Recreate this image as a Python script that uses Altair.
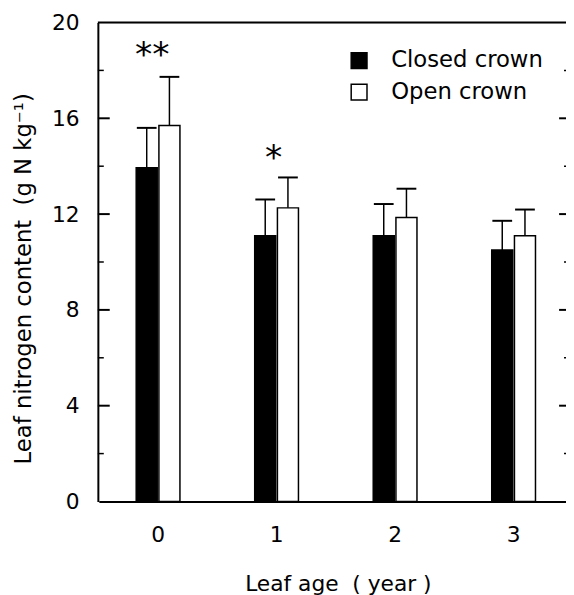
import altair as alt
import pandas as pd

# ---- data ----
ages = ["0", "1", "2", "3"]
crowns = ["Closed crown", "Open crown"]
closed_mean = [13.94, 11.10, 11.10, 10.50]
open_mean = [15.70, 12.26, 11.86, 11.10]
closed_sd = [1.66, 1.51, 1.32, 1.22]
open_sd = [2.03, 1.27, 1.20, 1.09]
sig_labels = ["**", "*"]
sig_ages = ["0", "1"]
sig_y = [18.2, 13.87]
major_ticks = [4, 8, 12, 16]
minor_ticks = [2, 6, 10, 14, 18]
y_labels = [0, 4, 8, 12, 16, 20]

rows = []
for i, a in enumerate(ages):
    rows.append({"age": a, "crown": crowns[0], "mean": closed_mean[i],
                 "upper": closed_mean[i] + closed_sd[i]})
    rows.append({"age": a, "crown": crowns[1], "mean": open_mean[i],
                 "upper": open_mean[i] + open_sd[i]})
df = pd.DataFrame(rows)
sig = pd.DataFrame({"age": sig_ages, "label": sig_labels, "y": sig_y})
majors = pd.DataFrame({"mean": major_ticks})
minors = pd.DataFrame({"mean": minor_ticks})
top = pd.DataFrame({"mean": [20]})

W, H = 474, 485
FONT = "DejaVu Sans"
NB = "\u00a0"

yscale = alt.Scale(domain=[0, 20], nice=False, zero=True)
xscale = alt.Scale(domain=ages, range=[1, 481], paddingInner=0, paddingOuter=0)
oscale = alt.Scale(domain=crowns, range=[37.8, 82.1], paddingInner=0.074, paddingOuter=0)

y_axis = alt.Axis(title=f"Leaf nitrogen content{NB}{NB}(g N kg⁻¹)", values=y_labels,
                  ticks=False, tickSize=0, labelPadding=19, labelFontSize=22,
                  labelFont=FONT, labelColor="black", domainColor="black",
                  domainWidth=2, grid=False, titleFontSize=23, titleFont=FONT,
                  titleFontWeight="normal", titleColor="black",
                  titleX=-75, titleY=259, titleAngle=-90,
                  titleBaseline="middle", titleAlign="center")
x_axis = alt.Axis(title=f"Leaf age{NB}{NB}( year )", labelAngle=0, ticks=False,
                  tickSize=0, labelPadding=24, labelFontSize=22,
                  labelFont=FONT, labelColor="black", domainColor="black",
                  domainWidth=2, titleFontSize=22, titleFont=FONT,
                  titleFontWeight="normal", titleColor="black",
                  titleX=243, titleY=90, titleBaseline="alphabetic",
                  titleAlign="center", grid=False)


def X():
    return alt.X("age:N", scale=xscale, sort=ages, axis=x_axis)


def Y(field):
    return alt.Y(field, scale=yscale, axis=y_axis, title=y_axis.title)


xo_enc = alt.XOffset("crown:N", scale=oscale, sort=crowns)

bars = alt.Chart(df).mark_bar(stroke="black", strokeWidth=1.5).encode(
    x=X(),
    xOffset=xo_enc,
    y=Y("mean:Q"),
    color=alt.Color("crown:N", scale=alt.Scale(domain=crowns, range=["black", "white"]),
                    legend=alt.Legend(title=None, orient="none", legendX=253, legendY=27,
                                      symbolType="square", symbolSize=256,
                                      symbolStrokeColor="black", symbolStrokeWidth=1.5,
                                      labelFontSize=23, labelFont=FONT, labelColor="black",
                                      labelOffset=21, rowPadding=8, padding=0)),
)

err = alt.Chart(df).mark_rule(color="black", strokeWidth=1.5).encode(
    x=X(), xOffset=xo_enc, y=Y("mean:Q"), y2="upper:Q",
)

caps = alt.Chart(df).mark_tick(color="black", size=20, thickness=2, opacity=1).encode(
    x=X(), xOffset=xo_enc, y=Y("upper:Q"),
)

sig2 = alt.Chart(sig).transform_filter(alt.datum.label == "**").mark_text(
    font=FONT, fontSize=35, color="black", align="center", baseline="alphabetic", dx=-6
).encode(x=X(), y=Y("y:Q"), text="label:N")
sig1 = alt.Chart(sig).transform_filter(alt.datum.label == "*").mark_text(
    font=FONT, fontSize=35, color="black", align="center", baseline="alphabetic", dx=-3
).encode(x=X(), y=Y("y:Q"), text="label:N")

left_major = alt.Chart(majors).mark_rule(color="black", strokeWidth=2).encode(
    y=Y("mean:Q"), x=alt.value(0), x2=alt.value(12))
left_minor = alt.Chart(minors).mark_rule(color="black", strokeWidth=1.5).encode(
    y=Y("mean:Q"), x=alt.value(0), x2=alt.value(6))
right_major = alt.Chart(majors).mark_rule(color="black", strokeWidth=2).encode(
    y=Y("mean:Q"), x=alt.value(W - 7), x2=alt.value(W))
right_minor = alt.Chart(minors).mark_rule(color="black", strokeWidth=1.5).encode(
    y=Y("mean:Q"), x=alt.value(W - 2), x2=alt.value(W))
top_line = alt.Chart(top).mark_rule(color="black", strokeWidth=2).encode(
    y=Y("mean:Q"), x=alt.value(0), x2=alt.value(W))

chart = alt.layer(
    bars, err, caps, sig2, sig1, left_major, left_minor, right_major, right_minor, top_line
).properties(
    width=W, height=H,
    autosize=alt.AutoSizeParams(type="none"),
    padding={"left": 91, "top": 11, "right": 0, "bottom": 91},
).configure_view(stroke=None).configure(font=FONT, background="white")

chart.save("out.html", embed_options={"renderer": "svg", "actions": False})
